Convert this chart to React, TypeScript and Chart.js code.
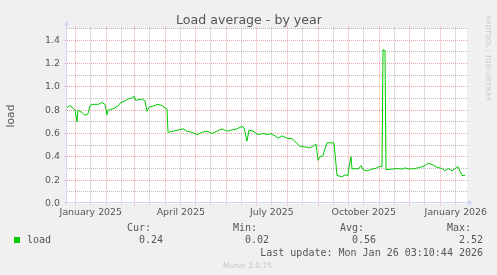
import React, { useEffect, useRef } from "react";
import { Chart, registerables } from "chart.js";

Chart.register(...registerables);

// ---- data (x = days since start of the 400-day window) ----
const windowDays = 400;
const jan1Offset = 8.8; // Jan 1 2025 within the window
const dayIndex = [
  0, 3, 6, 8, 10, 11, 15, 18, 21, 23, 26, 31, 35, 38, 40, 41, 45, 48, 51, 53,
  58, 61, 65, 67, 69, 71, 75, 78, 80, 82, 86, 91, 95, 98, 100, 101, 106, 111,
  116, 120, 125, 130, 135, 140, 145, 150, 155, 160, 165, 170, 175, 177, 180,
  182, 186, 191, 196, 201, 203, 208, 211, 215, 220, 225, 230, 233, 238, 243,
  246, 249, 251, 253, 256, 258, 260, 265, 267, 270, 275, 278, 281, 282, 284,
  285, 288, 291, 294, 296, 300, 305, 310, 313, 315, 316, 318, 319, 325, 330,
  335, 338, 343, 348, 353, 358, 361, 365, 370, 375, 378, 381, 385, 388, 391,
  395, 398,
];
const loadValues = [
  0.82, 0.84, 0.82, 0.8, 0.7, 0.8, 0.78, 0.755, 0.77, 0.84, 0.85, 0.85, 0.865,
  0.85, 0.76, 0.8, 0.81, 0.82, 0.835, 0.86, 0.88, 0.895, 0.905, 0.92, 0.88,
  0.89, 0.895, 0.88, 0.79, 0.825, 0.835, 0.85, 0.84, 0.82, 0.81, 0.61, 0.62,
  0.63, 0.64, 0.62, 0.61, 0.59, 0.61, 0.62, 0.6, 0.62, 0.64, 0.62, 0.63, 0.64,
  0.66, 0.65, 0.535, 0.63, 0.62, 0.59, 0.6, 0.59, 0.6, 0.58, 0.56, 0.58, 0.56,
  0.555, 0.515, 0.49, 0.485, 0.477, 0.49, 0.51, 0.37, 0.4, 0.41, 0.47, 0.52,
  0.52, 0.52, 0.24, 0.23, 0.245, 0.24, 0.31, 0.4, 0.295, 0.3, 0.295, 0.325,
  0.29, 0.28, 0.295, 0.305, 0.32, 0.315, 1.32, 1.31, 0.29, 0.295, 0.3, 0.295,
  0.305, 0.295, 0.3, 0.31, 0.325, 0.345, 0.335, 0.31, 0.3, 0.28, 0.3, 0.28, 0.3,
  0.315, 0.24, 0.24,
];
// month starts, days after Jan 1 2025
const monthStarts = [0, 31, 59, 90, 120, 151, 181, 212, 243, 273, 304, 334, 365];
const labelMonths = [0, 90, 181, 273, 365];
const labelTexts = ["January 2025", "April 2025", "July 2025", "October 2025", "January 2026"];
const yMajor = [0.2, 0.4, 0.6, 0.8, 1.0, 1.2, 1.4];
const yMinor = [0.1, 0.3, 0.5, 0.7, 0.9, 1.1, 1.3, 1.5];
const yTickValues = [0, 0.2, 0.4, 0.6, 0.8, 1.0, 1.2, 1.4];
const yMax = 1.5;

const legendHeaders = ["Cur:", "Min:", "Avg:", "Max:"];
const legendValues = ["0.24", "0.02", "0.56", "2.52"];
const seriesName = "load";
const lastUpdate = "Last update: Mon Jan 26 03:10:44 2026";
const titleText = "Load average - by year";
const yTitle = "load";
const watermark = "RRDTOOL / TOBI OETIKER";
const footer = "Munin 2.0.75";

const LINE = "#00CC00";
const FONT_COLOR = "#555555";
const AXIS = "#CFD6F8";
const MGRID = "rgba(222,79,79,0.5)";
const GRID = "rgba(143,143,143,0.6)";

const muninPlugin = {
  id: "munin",
  beforeDatasetsDraw(chart: any) {
    const { ctx, chartArea: a, scales } = chart;
    const x = scales.x;
    const y = scales.y;
    ctx.save();
    ctx.fillStyle = "#FFFFFF";
    ctx.fillRect(a.left, a.top, a.right - a.left, a.bottom - a.top);
    ctx.lineWidth = 1;
    ctx.setLineDash([1, 1]);
    const hline = (v: number, ext: number) => {
      const py = Math.floor(y.getPixelForValue(v)) + 0.5;
      ctx.beginPath();
      ctx.moveTo(a.left - ext, py);
      ctx.lineTo(a.right + 1, py);
      ctx.stroke();
    };
    const vline = (d: number, ext: number) => {
      if (d < 0 || d > windowDays) return;
      const px = Math.floor(x.getPixelForValue(d)) + 0.5;
      ctx.beginPath();
      ctx.moveTo(px, a.top - ext);
      ctx.lineTo(px, a.bottom + ext);
      ctx.stroke();
    };
    ctx.strokeStyle = GRID;
    yMinor.forEach((v) => hline(v, 0));
    [-31, ...monthStarts].forEach((m) => vline(jan1Offset + m + 15, 1));
    ctx.strokeStyle = MGRID;
    yMajor.forEach((v) => hline(v, 2));
    monthStarts.forEach((m) => vline(jan1Offset + m, 2));
    ctx.restore();
  },
  afterDatasetsDraw(chart: any) {
    const { ctx, chartArea: a } = chart;
    ctx.save();
    ctx.strokeStyle = AXIS;
    ctx.fillStyle = AXIS;
    ctx.lineWidth = 1;
    const ax = Math.floor(a.left) - 0.5;
    const ay = Math.floor(a.bottom) + 0.5 - 1;
    ctx.beginPath();
    ctx.moveTo(ax, a.bottom + 2);
    ctx.lineTo(ax, a.top - 3);
    ctx.moveTo(a.left - 3, ay);
    ctx.lineTo(a.right + 2, ay);
    ctx.stroke();
    ctx.beginPath();
    ctx.moveTo(ax - 2.5, a.top - 3);
    ctx.lineTo(ax + 2.5, a.top - 3);
    ctx.lineTo(ax, a.top - 7.5);
    ctx.closePath();
    ctx.fill();
    ctx.beginPath();
    ctx.moveTo(a.right + 1, ay - 2.5);
    ctx.lineTo(a.right + 1, ay + 2.5);
    ctx.lineTo(a.right + 6, ay);
    ctx.closePath();
    ctx.fill();
    ctx.restore();
  },
  afterDraw(chart: any) {
    const { ctx, chartArea: a } = chart;
    ctx.save();
    ctx.fillStyle = FONT_COLOR;
    ctx.textBaseline = "alphabetic";
    ctx.font = "12.6px 'DejaVu Sans'";
    ctx.textAlign = "center";
    ctx.fillText(titleText, 249, 23.5);

    ctx.save();
    ctx.translate(14, (a.top + a.bottom) / 2);
    ctx.rotate(-Math.PI / 2);
    ctx.font = "10.7px 'DejaVu Sans'";
    ctx.textAlign = "center";
    ctx.fillText(yTitle, 0, 0);
    ctx.restore();

    ctx.save();
    ctx.translate(486, 15);
    ctx.rotate(Math.PI / 2);
    ctx.font = "6.7px 'DejaVu Sans'";
    ctx.textAlign = "left";
    ctx.fillStyle = "#C8C8C8";
    ctx.fillText(watermark, 0, 0);
    ctx.restore();

    // legend
    ctx.fillStyle = LINE;
    ctx.fillRect(14, 237, 6, 6);
    ctx.fillStyle = FONT_COLOR;
    ctx.font = "10px 'DejaVu Sans Mono'";
    ctx.textAlign = "left";
    ctx.fillText(seriesName, 27, 243);
    const hx = [127, 233, 340, 447];
    legendHeaders.forEach((h, i) => ctx.fillText(h, hx[i], 231));
    ctx.textAlign = "right";
    legendValues.forEach((v, i) => ctx.fillText(v, hx[i] + 36, 243));
    ctx.fillText(lastUpdate, 483, 255.5);

    ctx.textAlign = "center";
    ctx.font = "7.5px 'DejaVu Sans'";
    ctx.fillStyle = "#C4C4C4";
    ctx.fillText(footer, 247.5, 268);
    ctx.restore();
  },
};

export default function App() {
  const ref = useRef<HTMLCanvasElement | null>(null);
  useEffect(() => {
    if (!ref.current) return;
    const points = dayIndex.map((d, i) => ({ x: d, y: loadValues[i] }));
    const chart = new Chart(ref.current, {
      type: "line",
      data: {
        datasets: [
          {
            label: seriesName,
            data: points,
            borderColor: LINE,
            borderWidth: 1,
            pointRadius: 0,
            tension: 0,
            fill: false,
          },
        ],
      },
      options: {
        responsive: false,
        animation: false,
        devicePixelRatio: 1,
        layout: { padding: { left: 0, top: 28.5, right: 30, bottom: 0 } },
        plugins: { legend: { display: false }, title: { display: false }, tooltip: { enabled: false } },
        scales: {
          x: {
            type: "linear",
            min: 0,
            max: windowDays,
            grid: { display: false, drawTicks: false },
            border: { display: false },
            afterFit: (s: any) => {
              s.height = 71.5;
            },
            afterBuildTicks: (s: any) => {
              s.ticks = labelMonths.map((m) => ({ value: jan1Offset + m + 15 }));
            },
            ticks: {
              autoSkip: false,
              maxRotation: 0,
              padding: 3,
              color: FONT_COLOR,
              font: { family: "'DejaVu Sans'", size: 9.4 },
              callback: (_v: any, i: number) => labelTexts[i],
            },
          },
          y: {
            min: 0,
            max: yMax,
            grid: { display: false, drawTicks: false },
            border: { display: false },
            afterFit: (s: any) => {
              s.width = 67;
            },
            afterBuildTicks: (s: any) => {
              s.ticks = yTickValues.map((v) => ({ value: v }));
            },
            ticks: {
              padding: 7,
              color: FONT_COLOR,
              font: { family: "'DejaVu Sans'", size: 9.4 },
              callback: (v: any) => Number(v).toFixed(1),
            },
          },
        },
      },
      plugins: [muninPlugin],
    });
    return () => chart.destroy();
  }, []);
  return (
    <div
      style={{
        position: "absolute",
        left: 0,
        top: 0,
        width: 497,
        height: 275,
        background: "#F0F0F0",
      }}
    >
      <canvas ref={ref} width={497} height={275} style={{ display: "block" }} />
    </div>
  );
}
